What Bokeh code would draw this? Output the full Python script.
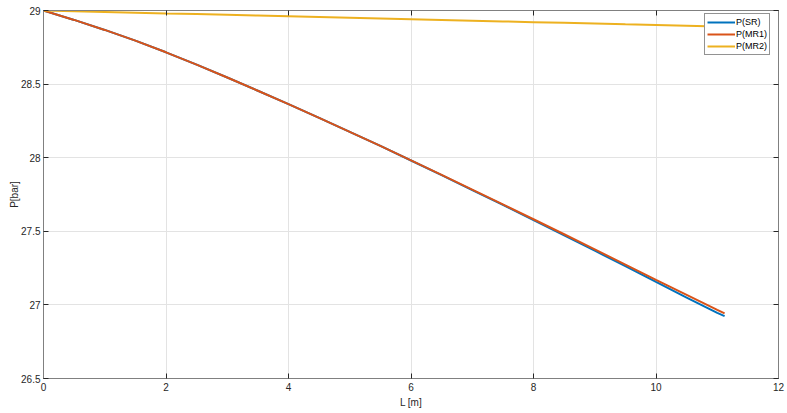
from bokeh.plotting import figure
from bokeh.models import Range1d, LinearAxis, FixedTicker, Legend, LegendItem
from bokeh.embed import file_html
from bokeh.resources import INLINE

# ---- data ----
L = [0, 0.5, 1, 1.5, 2, 2.5, 3, 3.5, 4, 4.5, 5, 5.5, 6, 6.5, 7, 7.5, 8, 8.5, 9, 9.5, 10, 10.5, 11, 11.12]
P_SR = [29.000, 28.936, 28.868, 28.795, 28.716, 28.632, 28.545, 28.455, 28.364, 28.271, 28.176, 28.080,
        27.981, 27.881, 27.780, 27.679, 27.576, 27.473, 27.368, 27.263, 27.156, 27.050, 26.946, 26.924]
P_MR1 = [29.000, 28.936, 28.868, 28.795, 28.716, 28.632, 28.545, 28.455, 28.364, 28.271, 28.176, 28.080,
         27.982, 27.883, 27.783, 27.683, 27.582, 27.480, 27.377, 27.274, 27.170, 27.068, 26.966, 26.942]
P_MR2 = [29.000, 28.995, 28.990, 28.985, 28.980, 28.976, 28.971, 28.966, 28.961, 28.956, 28.951, 28.946,
         28.941, 28.936, 28.931, 28.926, 28.921, 28.916, 28.911, 28.906, 28.902, 28.897, 28.892, 28.891]

series_names = ["P(SR)", "P(MR1)", "P(MR2)"]
series_colors = ["#0072BD", "#D95319", "#EDB120"]

x_ticks = [0, 2, 4, 6, 8, 10, 12]
x_tick_labels = ["0", "2", "4", "6", "8", "10", "12"]
y_ticks = [26.5, 27, 27.5, 28, 28.5, 29]
y_tick_labels = ["26.5", "27", "27.5", "28", "28.5", "29"]

FONT = "Liberation Sans"
AX = "#808080"
TXT = "#262626"

p = figure(width=787, height=413, output_backend="svg", toolbar_location=None,
           x_range=Range1d(0, 12), y_range=Range1d(26.5, 29),
           min_border_left=43, min_border_right=9, min_border_top=10, min_border_bottom=35,
           x_axis_label="L [m]", y_axis_label="P[bar]")
p.background_fill_color = "white"
p.outline_line_color = AX
p.outline_line_width = 1

def style_axis(ax, ticks, labels):
    ax.ticker = FixedTicker(ticks=ticks)
    ax.major_label_overrides = {t: l for t, l in zip(ticks, labels)}
    ax.major_tick_in = 5
    ax.major_tick_out = 0
    ax.minor_tick_in = 0
    ax.minor_tick_out = 0
    ax.axis_line_color = AX
    ax.major_tick_line_color = TXT
    ax.major_label_text_font = FONT
    ax.major_label_text_font_size = "10px"
    ax.major_label_text_color = TXT
    ax.axis_label_text_font = FONT
    ax.axis_label_text_font_size = "10px"
    ax.axis_label_text_font_style = "normal"
    ax.axis_label_text_color = TXT

style_axis(p.xaxis[0], x_ticks, x_tick_labels)
style_axis(p.yaxis[0], y_ticks, y_tick_labels)
p.xaxis[0].major_label_standoff = 4
p.xaxis[0].axis_label_standoff = 3
p.yaxis[0].major_label_standoff = 3
p.yaxis[0].axis_label_standoff = -2

for loc, ticks in (("above", x_ticks), ("right", y_ticks)):
    ax = LinearAxis()
    style_axis(ax, ticks, ["" for _ in ticks])
    ax.major_label_text_font_size = "0px"
    ax.major_label_standoff = 0
    p.add_layout(ax, loc)

p.xgrid.ticker = FixedTicker(ticks=x_ticks)
p.ygrid.ticker = FixedTicker(ticks=y_ticks)
p.grid.grid_line_color = "#e3e3e3"
p.grid.grid_line_width = 1

r1 = p.line(L, P_SR, line_color=series_colors[0], line_width=2)
r2 = p.line(L, P_MR1, line_color=series_colors[1], line_width=2)
r3 = p.line(L, P_MR2, line_color=series_colors[2], line_width=2)

legend = Legend(items=[LegendItem(label=series_names[0], renderers=[r1]),
                       LegendItem(label=series_names[1], renderers=[r2]),
                       LegendItem(label=series_names[2], renderers=[r3])],
                location=(661, 323))
legend.margin = 0
legend.padding = 2
legend.spacing = 0
legend.glyph_width = 28
legend.glyph_height = 12
legend.label_standoff = 1
legend.label_height = 12
legend.label_text_font = FONT
legend.label_text_font_size = "9px"
legend.label_text_color = "#000000"
legend.border_line_color = TXT
legend.border_line_width = 1
legend.background_fill_color = "white"
legend.background_fill_alpha = 1
p.add_layout(legend, "center")

open("out.html", "w").write(file_html(p, INLINE))
